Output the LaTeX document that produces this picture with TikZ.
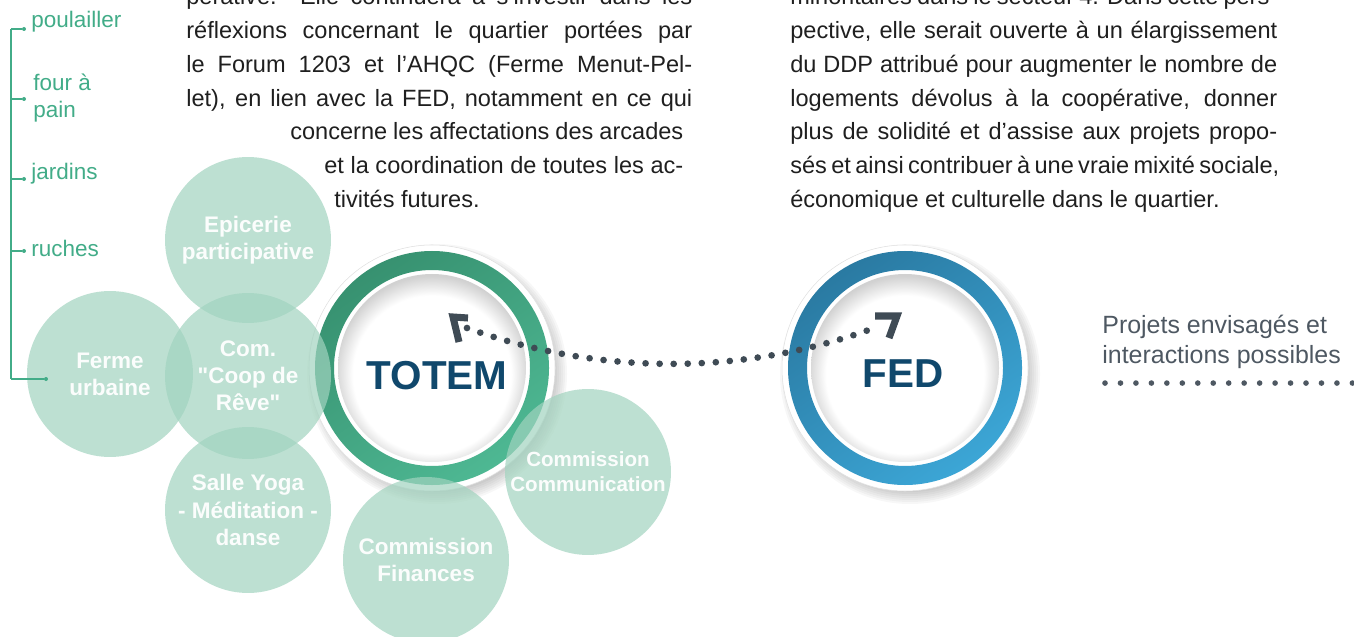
\documentclass[tikz,border=0pt]{standalone}
\usepackage{fontspec}
\setmainfont{Liberation Sans}
\usetikzlibrary{calc}

\definecolor{bubblegreen}{RGB}{161,211,191}
\definecolor{leafgreen}{RGB}{66,172,136}
\definecolor{totemdark}{RGB}{55,145,112}
\definecolor{totemlight}{RGB}{78,184,147}
\definecolor{feddark}{RGB}{42,122,162}
\definecolor{fedlight}{RGB}{60,166,214}
\definecolor{navy}{RGB}{16,72,108}
\definecolor{slate}{RGB}{63,75,85}
\definecolor{legendgray}{RGB}{78,88,98}

\pgfdeclareradialshading{plate}{\pgfpoint{0bp}{-3bp}}{color(0bp)=(white); color(21bp)=(white); color(26bp)=(black!18); color(50bp)=(black!18)}

\begin{document}
\begin{tikzpicture}[
    x=0.02cm, y=0.02cm,
    every node/.style={inner sep=0pt},
    body/.style={anchor=base west, font=\fontsize{13.4}{19}\selectfont, text=black!88},
    bubble/.style={circle, minimum size=3.32cm, fill=bubblegreen, fill opacity=0.7,
        text opacity=0.95, text=white, align=center,
        font=\bfseries\fontsize{12.8}{15.5}\selectfont},
    ringlabel/.style={font=\bfseries\fontsize{23}{26}\selectfont, text=navy},
    leaf/.style={anchor=base west, font=\fontsize{12.8}{15.4}\selectfont, text=leafgreen},
    leafdot/.style={circle, fill=leafgreen, minimum size=0.08cm},
    leafline/.style={leafgreen, line width=0.75pt},
    linkdots/.style={slate, line width=3.8pt, line cap=round, dash pattern=on 0pt off 8pt},
    barb/.style={slate, line width=4pt, line join=miter},
    legend/.style={anchor=west, align=left, font=\fontsize{14.2}{17}\selectfont, text=legendgray},
    legenddots/.style={legendgray, line width=3.2pt, line cap=round, dash pattern=on 0pt off 8.8pt}
]
\useasboundingbox (0,0) rectangle (1354,636);
\clip (0,0) rectangle (1354,636);

% text columns
\foreach \y/\x/\w/\s/\t [count=\i] in {
    631/186/10.12cm/s/{pérative. Elle continuera à s’investir dans les},
    597/186/10.12cm/s/{réflexions concernant le quartier portées par},
    563/186/10.12cm/s/{le Forum 1203 et l’AHQC (Ferme Menut-Pel-},
    529/186/10.12cm/s/{let), en lien avec la FED, notamment en ce qui},
    496/290/7.86cm/s/{concerne les affectations des arcades},
    462/324/7.18cm/s/{et la coordination de toutes les ac-},
    428/334/7.18cm/l/{tivités futures.}}
    \node[body] (left\i) at (\x,\y) {\makebox[\w][\s]{\t}};

\foreach \y/\w/\s/\t [count=\i] in {
    631/9.74cm/s/{minoritaires dans le secteur 4. Dans cette pers-},
    597/9.74cm/s/{pective, elle serait ouverte à un élargissement},
    563/9.74cm/s/{du DDP attribué pour augmenter le nombre de},
    529/9.74cm/s/{logements dévolus à la coopérative, donner},
    496/9.74cm/s/{plus de solidité et d’assise aux projets propo-},
    462/9.74cm/s/{sés et ainsi contribuer à une vraie mixité sociale,},
    428/9.74cm/l/{économique et culturelle dans le quartier.}}
    \node[body] (right\i) at (790,\y) {\makebox[\w][\s]{\t}};

% the two rings
\coordinate (totem-c) at (432,268);
\coordinate (fed-c) at (905,268);
\foreach \c/\dark/\light in {totem-c/totemdark/totemlight, fed-c/feddark/fedlight} {
    \foreach \k in {1,...,7}
        \fill[black, opacity=0.03] ([shift={(5,-6)}]\c) circle ({116+2*\k});
    \fill[white] (\c) circle (123);
    \draw[black!12, line width=0.3pt] (\c) circle (123);
    \shade[even odd rule, top color=\dark, bottom color=\light, shading angle=35]
        (\c) circle (117) (\c) circle (98);
    \shade[shading=plate] (\c) circle (94);
}
\node[ringlabel] (totem) at (437,260) {TOTEM};
\node[ringlabel] (fed) at (903,262) {FED};

% dotted link between the rings
\coordinate (totem-end) at ($(totem)+(30,48)$);
\coordinate (fed-end) at ($(fed)+(-26,47)$);
\draw[linkdots] (totem-end) .. controls +(133,-48) and +(-132,-49) .. (fed-end);
\draw[barb] ($(totem-end)+(1,10)$) -- ++(-15,1) -- ++(6,-25);
\draw[barb] ($(fed-end)+(-2,11)$) -- ++(22,0) -- ++(-8,-22);

% projects around TOTEM
\node[bubble] (epicerie) at (248,396) {Epicerie\\participative};
\node[bubble] (coop) at (248,260) {Com.\\\textquotedbl Coop de\\Rêve\textquotedbl};
\node[bubble] (ferme) at (110,262) {Ferme\\urbaine};
\node[bubble] (yoga) at (248,126) {Salle Yoga\\- Méditation -\\danse};
\node[bubble] (finances) at (426,76) {Commission\\Finances};
\node[bubble, font=\bfseries\fontsize{11.7}{14.2}\selectfont] (communication) at (588,164) {Commission\\Communication};

% farm branches
\coordinate (spine) at (11,0);
\foreach \n/\x/\y in {1/24/607, 2/24/537, 3/24/457, 4/24/385, 5/46/257}
    \node[leafdot] (d\n) at (\x,\y) {};
\draw[leafline] (d1 -| spine) -- (d5 -| spine);
\foreach \n in {1,...,5}
    \draw[leafline] (d\n -| spine) -- (d\n);
\node[leaf] (poulailler) at (31,608) {poulailler};
\node[leaf, anchor=west, align=left] (four) at (33,538) {four à\\pain};
\node[leaf] (jardins) at (31,456) {jardins};
\node[leaf] (ruches) at (31,379) {ruches};

% legend
\node[legend] (legend) at (1102,294) {Projets envisagés et\\interactions possibles};
\draw[legenddots] ($(legend.south west)+(3,-14)$) -- ++(252,0);

\end{tikzpicture}
\end{document}
